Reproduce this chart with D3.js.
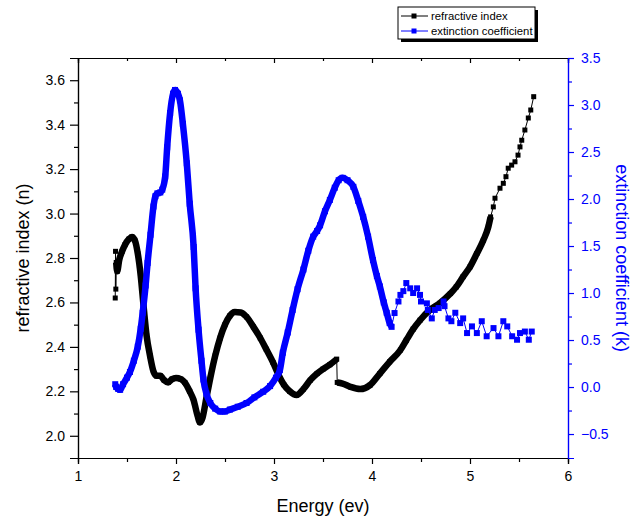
<!DOCTYPE html>
<html>
<head>
<meta charset="utf-8">
<script src="https://cdn.jsdelivr.net/npm/d3@7"></script>
<style>
  body { margin: 0; background: #fff; }
  svg text { font-family: "Liberation Sans", Arial, sans-serif; }
</style>
</head>
<body>
<div id="chart"></div>
<script>
// refractive index n vs photon energy
var nEnergy = [1.38,1.383,1.386,1.39,1.40,1.42,1.45,1.48,1.52,1.55,1.58,1.61,1.64,1.67,1.70,1.735,1.77,1.80,1.84,1.88,
  1.92,1.96,2.00,2.05,2.09,2.14,2.18,2.22,2.245,2.27,2.31,2.35,2.40,2.45,2.50,2.55,2.60,2.66,2.72,2.79,
  2.86,2.92,2.99,3.05,3.10,3.16,3.23,3.30,3.37,3.44,3.50,3.57,3.64,3.645,3.70,3.78,3.88,3.98,4.08,4.18,
  4.29,4.35,4.42,4.49,4.59,4.69,4.80,4.86,4.93,5.00,5.07,5.136,5.187,5.21,5.238,5.255,5.306,5.34,5.367,5.39,5.425,
  5.459,5.49,5.51,5.528,5.56,5.595,5.62,5.65];
var nValues = [2.62,2.83,2.66,2.78,2.74,2.79,2.83,2.86,2.885,2.895,2.88,2.82,2.72,2.58,2.45,2.36,2.29,2.27,2.27,2.25,
  2.24,2.255,2.26,2.255,2.24,2.20,2.16,2.09,2.06,2.08,2.17,2.26,2.36,2.44,2.50,2.54,2.557,2.555,2.535,2.49,
  2.44,2.39,2.33,2.27,2.23,2.20,2.183,2.21,2.25,2.28,2.30,2.32,2.345,2.24,2.235,2.22,2.21,2.228,2.28,2.333,
  2.386,2.43,2.48,2.52,2.566,2.596,2.64,2.67,2.716,2.76,2.82,2.88,2.94,2.985,3.03,3.069,3.114,3.136,3.166,3.204,3.218,
  3.233,3.263,3.30,3.33,3.376,3.43,3.466,3.526];

// extinction coefficient k vs photon energy
var kEnergy = [1.38,1.39,1.41,1.43,1.46,1.50,1.53,1.57,1.61,1.64,1.66,1.69,1.71,1.74,1.77,1.79,1.81,1.84,1.86,1.89,
  1.91,1.94,1.97,1.99,2.02,2.04,2.07,2.11,2.14,2.18,2.20,2.23,2.26,2.28,2.31,2.35,2.40,2.45,2.50,2.55,
  2.63,2.72,2.80,2.89,2.96,3.02,3.06,3.09,3.14,3.19,3.24,3.30,3.35,3.40,3.44,3.47,3.52,3.57,3.62,3.66,
  3.70,3.75,3.81,3.86,3.91,3.96,4.01,4.05,4.08,4.12,4.15,4.18,4.20,4.23,4.27,4.29,4.32,4.35,4.39,4.42,
  4.46,4.49,4.50,4.56,4.57,4.61,4.64,4.68,4.73,4.74,4.78,4.81,4.85,4.90,4.93,4.97,5.02,5.07,5.12,5.17,
  5.24,5.29,5.34,5.38,5.43,5.48,5.51,5.56,5.60,5.63];
var kValues = [0.03,0.0,-0.02,-0.03,0.03,0.10,0.16,0.28,0.43,0.62,0.79,1.08,1.32,1.62,1.92,2.03,2.06,2.07,2.10,2.24,
  2.55,2.915,3.12,3.16,3.12,3.05,2.80,2.38,1.95,1.49,1.05,0.61,0.28,0.08,-0.07,-0.17,-0.23,-0.26,-0.26,-0.24,
  -0.21,-0.17,-0.11,-0.05,0.01,0.10,0.18,0.365,0.58,0.82,1.04,1.25,1.45,1.60,1.66,1.72,1.87,1.99,2.12,2.20,
  2.225,2.20,2.13,1.98,1.81,1.60,1.35,1.18,1.07,0.90,0.79,0.68,0.64,0.787,0.91,0.98,1.02,1.106,1.05,1.0,
  1.05,0.98,0.91,0.89,0.82,0.73,0.82,0.84,0.91,0.86,0.73,0.70,0.79,0.68,0.73,0.574,0.645,0.574,0.70,0.54,
  0.627,0.54,0.70,0.645,0.54,0.503,0.574,0.59,0.503,0.59];

var xTicks = [1, 2, 3, 4, 5, 6];
var nTicks = [2.0, 2.2, 2.4, 2.6, 2.8, 3.0, 3.2, 3.4, 3.6];
var kTicks = [-0.5, 0.0, 0.5, 1.0, 1.5, 2.0, 2.5, 3.0, 3.5];

(function(){
    'use strict';
    var W = 644, H = 517;
    var pL = 78, pR = 568, pT = 58, pB = 458;
    var blue = '#0000ff';

    var svg = d3.select('#chart').append('svg').attr('width', W).attr('height', H);

    var x = d3.scaleLinear().domain([1, 6]).range([pL, pR]);
    var yN = d3.scaleLinear().domain([1.9, 3.7]).range([pB, pT]);
    var yK = d3.scaleLinear().domain([-0.755, 3.5]).range([pB, pT]);

    function minors(ticks){
        var out = [];
        for(var i = 0; i < ticks.length - 1; i++) out.push((ticks[i] + ticks[i+1]) / 2);
        return out;
    }

    // bottom axis
    svg.append('g').attr('transform', 'translate(0,' + pB + ')')
        .call(d3.axisBottom(x).tickValues(xTicks).tickFormat(d3.format('d')).tickSizeOuter(0).tickSize(6).tickPadding(7));
    svg.append('g').attr('transform', 'translate(0,' + pB + ')')
        .call(d3.axisBottom(x).tickValues(minors(xTicks)).tickFormat('').tickSizeOuter(0).tickSize(4));
    // top border, inward ticks
    svg.append('g').attr('transform', 'translate(0,' + pT + ')')
        .call(d3.axisBottom(x).tickValues(xTicks).tickFormat('').tickSizeOuter(0).tickSize(5));
    svg.append('g').attr('transform', 'translate(0,' + pT + ')')
        .call(d3.axisBottom(x).tickValues(minors(xTicks)).tickFormat('').tickSizeOuter(0).tickSize(3));

    // left axis
    svg.append('g').attr('transform', 'translate(' + pL + ',0)')
        .call(d3.axisLeft(yN).tickValues(nTicks).tickFormat(d3.format('.1f')).tickSizeOuter(0).tickSize(8).tickPadding(5));
    svg.append('g').attr('transform', 'translate(' + pL + ',0)')
        .call(d3.axisLeft(yN).tickValues(minors(nTicks)).tickFormat('').tickSizeOuter(0).tickSize(4));

    // right axis (blue)
    var rAxis = svg.append('g').attr('transform', 'translate(' + pR + ',0)');
    rAxis.append('g').call(d3.axisRight(yK).tickValues(kTicks).tickFormat(d3.format('.1f')).tickSizeOuter(0).tickSize(6).tickPadding(7));
    rAxis.append('g').call(d3.axisRight(yK).tickValues(minors(kTicks)).tickFormat('').tickSizeOuter(0).tickSize(4));

    svg.selectAll('.domain').attr('stroke', '#000').attr('stroke-width', 1.2);
    svg.selectAll('.tick line').attr('stroke', '#000').attr('stroke-width', 1.2);
    svg.selectAll('.tick text').attr('font-size', 14).attr('fill', '#000')
        .style('font-family', '"Liberation Sans", Arial, sans-serif');
    rAxis.selectAll('.domain, .tick line').attr('stroke', blue);
    rAxis.selectAll('.tick text').attr('fill', blue);

    // axis titles
    svg.append('text').attr('x', (pL + pR) / 2).attr('y', 512).attr('text-anchor', 'middle')
        .attr('font-size', 18).text('Energy (ev)');
    svg.append('text').attr('transform', 'translate(29,' + (pT + pB) / 2 + ') rotate(-90)')
        .attr('text-anchor', 'middle').attr('font-size', 18).text('refractive index (n)');
    svg.append('text').attr('transform', 'translate(616,' + (pT + pB) / 2 + ') rotate(90)')
        .attr('text-anchor', 'middle').attr('font-size', 18).attr('fill', blue).text('extinction coefficient (k)');

    function drawSeries(xs, ys, yScale, color, denseEnd, msize){
        var pts = xs.map(function(e, i){ return [x(e), yScale(ys[i]), e]; });
        // dense part drawn as a thick run, broken at vertical jumps
        var runs = [], cur = [];
        pts.forEach(function(p){
            if(p[2] > denseEnd) return;
            if(cur.length){
                var q = cur[cur.length - 1];
                if(Math.abs(p[0] - q[0]) < 1.5 && Math.abs(p[1] - q[1]) > 10){ runs.push(cur); cur = []; }
            }
            cur.push(p);
        });
        if(cur.length) runs.push(cur);

        var g = svg.append('g');
        g.append('path').attr('d', d3.line()(pts)).attr('fill', 'none').attr('stroke', color).attr('stroke-width', 1);
        var thick = d3.line().curve(d3.curveMonotoneX);
        g.selectAll('path.run').data(runs.filter(function(r){ return r.length > 1; })).enter()
            .append('path').attr('class', 'run')
            .attr('d', function(r){ return thick(r); })
            .attr('fill', 'none').attr('stroke', color).attr('stroke-width', 6.5)
            .attr('stroke-linejoin', 'round');
        g.selectAll('rect').data(pts).enter().append('rect')
            .attr('x', function(p){ return p[0] - msize / 2; })
            .attr('y', function(p){ return p[1] - msize / 2; })
            .attr('width', msize).attr('height', msize)
            .attr('fill', color);
    }

    drawSeries(nEnergy, nValues, yN, '#000', 5.22, 5);
    drawSeries(kEnergy, kValues, yK, blue, 4.2, 6);

    // legend with drop shadow
    var lg = svg.append('g').attr('transform', 'translate(398,7)');
    lg.append('rect').attr('x', 3).attr('y', 3).attr('width', 137).attr('height', 32).attr('fill', '#000');
    lg.append('rect').attr('x', 0).attr('y', 0).attr('width', 137).attr('height', 32)
        .attr('fill', '#fff').attr('stroke', '#000').attr('stroke-width', 1);
    var items = [['refractive index', '#000'], ['extinction coefficient', blue]];
    items.forEach(function(it, i){
        var yy = 9 + i * 15;
        lg.append('line').attr('x1', 3).attr('x2', 30).attr('y1', yy).attr('y2', yy)
            .attr('stroke', it[1]).attr('stroke-width', 1);
        lg.append('rect').attr('x', 13.5).attr('y', yy - 2.5).attr('width', 5).attr('height', 5).attr('fill', it[1]);
        lg.append('text').attr('x', 33).attr('y', yy + 4).attr('font-size', 11.3).attr('fill', '#000').text(it[0]);
    });
}());
</script>
</body>
</html>
